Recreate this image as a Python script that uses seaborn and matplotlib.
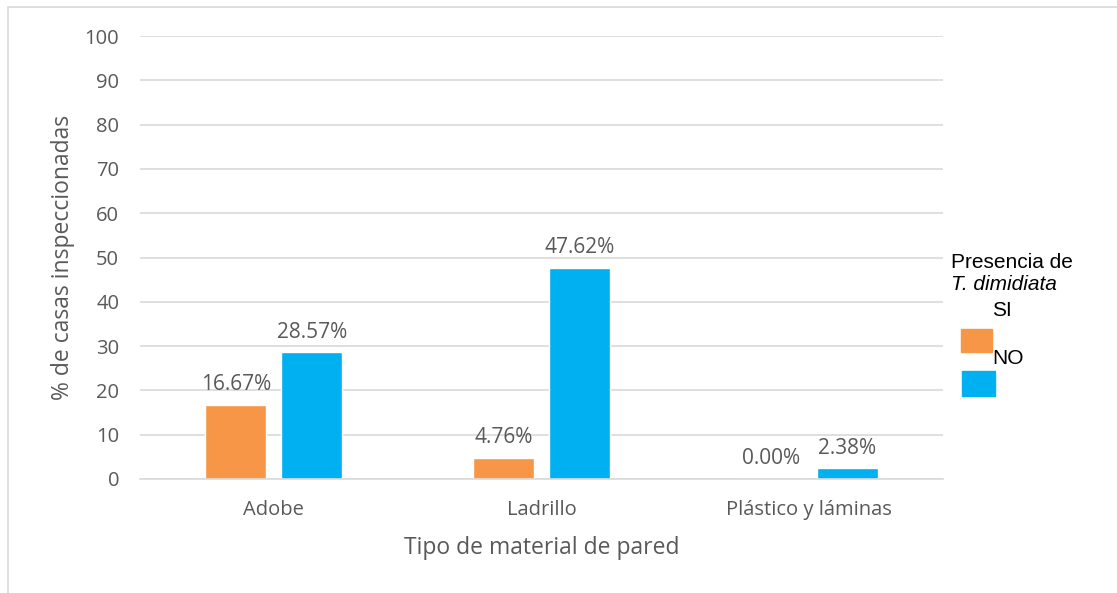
import matplotlib
matplotlib.use("Agg")
import matplotlib.pyplot as plt
from matplotlib.patches import Rectangle
import seaborn as sns
import pandas as pd

# Data: % of inspected houses by wall material and T. dimidiata presence
materials = ["Adobe", "Ladrillo", "Plástico y láminas"]
presence = ["SI", "NO"]
si_values = [16.67, 4.76, 0.00]
no_values = [28.57, 47.62, 2.38]
yticks = [0, 10, 20, 30, 40, 50, 60, 70, 80, 90, 100]

colors = {"SI": "#F79646", "NO": "#00B0F0"}
text_gray = "#595959"
grid_gray = "#D9D9D9"

df = pd.DataFrame({
    "Material": materials * 2,
    "Presencia": ["SI"] * 3 + ["NO"] * 3,
    "Porcentaje": si_values + no_values,
})

sns.set_theme(style="white")
plt.rcParams["font.family"] = ["Open Sans", "DejaVu Sans"]

W, H = 1117, 593
fig = plt.figure(figsize=(W / 100, H / 100), dpi=100)
ax = fig.add_axes([140 / W, 1 - 479 / H, (943 - 140) / W, (479 - 36) / H])

sns.barplot(data=df, x="Material", y="Porcentaje", hue="Presencia",
            hue_order=presence, order=materials, palette=colors,
            width=0.57, gap=0.2, ax=ax, legend=False, saturation=1)

ax.set_ylim(0, 100)
ax.set_xlim(-0.5, 2.5)
ax.set_yticks(yticks)
ax.yaxis.grid(True, color=grid_gray, linewidth=1.2)
ax.set_axisbelow(True)
for s in ["top", "right", "left"]:
    ax.spines[s].set_visible(False)
ax.spines["bottom"].set_color(grid_gray)
ax.spines["bottom"].set_linewidth(1.2)
ax.tick_params(axis="both", length=0, labelsize=14.5, colors=text_gray)
ax.tick_params(axis="y", pad=15)
ax.tick_params(axis="x", pad=15)

ax.set_xlabel("Tipo de material de pared", fontsize=16.5, color=text_gray, labelpad=12)
ax.set_ylabel("% de casas inspeccionadas", fontsize=16.5, color=text_gray, labelpad=7)

# Value labels above each bar
for container in ax.containers:
    ax.bar_label(container, fmt="%.2f%%", padding=7, fontsize=15, color=text_gray)

# Legend block drawn as figure text and patches
leg_font = ["Liberation Sans", "DejaVu Sans"]
fig.text(951 / W, 1 - 262 / H, "Presencia de", fontsize=15, family=leg_font,
         color="black", va="center", ha="left")
fig.text(951 / W, 1 - 285 / H, "T. dimidiata", fontsize=15, family=leg_font,
         style="italic", color="black", va="center", ha="left")
fig.text(992 / W, 1 - 311 / H, "SI", fontsize=15, family=leg_font,
         color="black", va="center", ha="left")
fig.text(992 / W, 1 - 358 / H, "NO", fontsize=15, family=leg_font,
         color="black", va="center", ha="left")
fig.patches.append(Rectangle((961 / W, 1 - 352 / H), 31 / W, 23 / H,
                             transform=fig.transFigure, color=colors["SI"]))
fig.patches.append(Rectangle((962 / W, 1 - 396 / H), 33 / W, 25 / H,
                             transform=fig.transFigure, color=colors["NO"]))

# Chart area border
fig.patches.append(Rectangle((8 / W, -0.05), 1.1, 1 - 7 / H + 0.05,
                             transform=fig.transFigure, fill=False,
                             edgecolor="#D9D9D9", linewidth=1.2))

fig.savefig("out.png", dpi=100)
